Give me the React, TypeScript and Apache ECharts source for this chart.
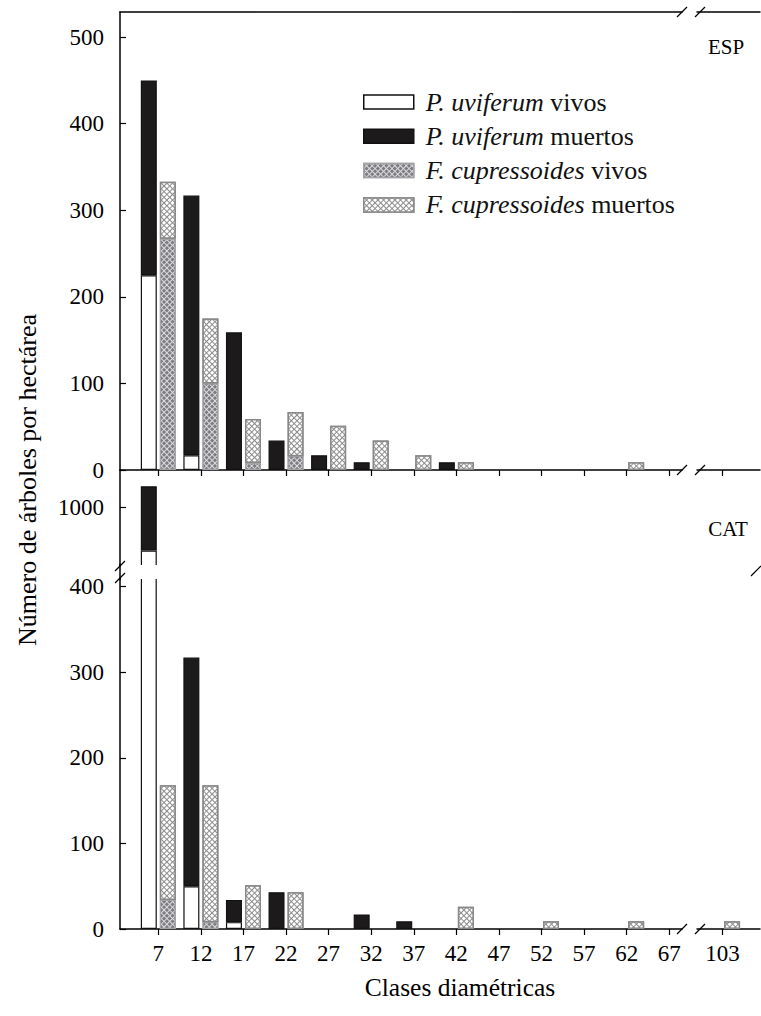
import React, { useEffect, useRef } from 'react';
import * as echarts from 'echarts';

// ---- data ----
const classes = [7, 12, 17, 22, 27, 32, 37, 42, 47, 52, 57, 62, 67, 103];
const species = ['P. uviferum', 'F. cupressoides'];
const states = ['vivos', 'muertos'];
const panels = ['ESP', 'CAT'];

// ESP (trees / ha)
const espPuvVivos = [225, 17, 0, 0, 0, 0, 0, 0, 0, 0, 0, 0, 0, 0];
const espPuvMuertos = [225, 300, 159, 34, 17, 9, 0, 9, 0, 0, 0, 0, 0, 0];
const espFcuVivos = [267, 100, 8, 16, 0, 0, 0, 0, 0, 0, 0, 0, 0, 0];
const espFcuMuertos = [66, 75, 51, 51, 51, 34, 17, 9, 0, 0, 0, 9, 0, 0];

// CAT (trees / ha)
const catPuvVivos = [950, 50, 8, 0, 0, 0, 0, 0, 0, 0, 0, 0, 0, 0];
const catPuvMuertos = [75, 267, 26, 43, 0, 17, 9, 0, 0, 0, 0, 0, 0, 0];
const catFcuVivos = [34, 8, 0, 0, 0, 0, 0, 0, 0, 0, 0, 0, 0, 0];
const catFcuMuertos = [134, 160, 51, 43, 0, 0, 0, 26, 0, 9, 0, 9, 0, 9];

const yTicksTop = [0, 100, 200, 300, 400, 500];
const yTicksLow = [0, 100, 200, 300, 400];
const yTicksHigh = [1000];

const FONT = 'Liberation Serif';

const legendNames = species.flatMap((s) => states.map((st) => `${s} ${st}`));

const styles = [
  { color: '#ffffff', borderColor: '#111111', borderWidth: 1.2 },
  { color: '#1d1a1b', borderColor: '#111111', borderWidth: 1.2 },
  {
    color: '#dcdcde',
    borderColor: '#a4a4a8',
    borderWidth: 1.2,
    decal: {
      symbol: 'rect',
      symbolSize: 1,
      color: '#7c7c81',
      dashArrayX: [3, 1],
      dashArrayY: [3, 1],
      rotation: Math.PI / 4,
    },
  },
  {
    color: '#8c8c8c',
    borderColor: '#888888',
    borderWidth: 1.5,
    decal: {
      symbol: 'rect',
      symbolSize: 1,
      color: '#ffffff',
      dashArrayX: [3, 1],
      dashArrayY: [3, 1],
      rotation: Math.PI / 4,
    },
  },
];

const mainIdx = classes.map((c, i) => i).filter((i) => classes[i] <= 67);
const brokenIdx = classes.map((c, i) => i).filter((i) => classes[i] > 67);

function buildSeries(
  tag: string,
  xAxisIndex: number,
  yAxisIndex: number,
  idx: number[],
  sets: number[][]
) {
  return sets.map((vals, k) => ({
    type: 'bar',
    name: legendNames[k],
    xAxisIndex,
    yAxisIndex,
    stack: (k < 2 ? 'P' : 'F') + tag,
    barWidth: 16,
    barGap: '19%',
    encode: { x: 1, y: 0 },
    data: idx.map((i) => [vals[i] > 0 ? vals[i] : null, classes[i]]),
    itemStyle: styles[k],
    emphasis: { disabled: true },
  }));
}

const axisLabelStyle = {
  fontFamily: FONT,
  fontSize: 23,
  color: '#000',
  formatter: (v: number) => String(v),
};
const lineStyle = { color: '#000', width: 1.5 };

function slash(x: number, y: number) {
  return {
    type: 'line',
    z: 120,
    shape: { x1: x - 5, y1: y + 5, x2: x + 5, y2: y - 5 },
    style: { stroke: '#000', lineWidth: 1.2 },
  };
}

function textEl(text: string, x: number, y: number, size: number, rotation = 0) {
  return {
    type: 'text',
    z: 120,
    x,
    y,
    rotation,
    style: {
      text,
      fontSize: size,
      fontFamily: FONT,
      fill: '#000',
      textAlign: 'center',
      textVerticalAlign: 'middle',
      align: 'center',
      verticalAlign: 'middle',
    },
  };
}

export default function App() {
  const ref = useRef<HTMLDivElement>(null);
  useEffect(() => {
    if (!ref.current) return;
    const chart = echarts.init(ref.current, null, { renderer: 'svg' });
    const mainClasses = mainIdx.map((i) => classes[i]);
    const brokenClasses = brokenIdx.map((i) => classes[i]);
    const espSets = [espPuvVivos, espPuvMuertos, espFcuVivos, espFcuMuertos];
    const catSets = [catPuvVivos, catPuvMuertos, catFcuVivos, catFcuMuertos];

    const xLeft = { min: 2.5, max: 68.5 };
    const xRight = { min: 100, max: 107.4 };
    const tickStyle = { color: '#000', width: 1.2 };

    const option: any = {
      animation: false,
      backgroundColor: '#ffffff',
      textStyle: { fontFamily: FONT },
      grid: [
        { left: 120, top: 12, width: 562, height: 458, outerBoundsMode: 'none' },
        { left: 697, top: 12, width: 63, height: 458, outerBoundsMode: 'none' },
        { left: 120, top: 470, width: 562, height: 96, outerBoundsMode: 'none' },
        { left: 120, top: 578, width: 562, height: 351, outerBoundsMode: 'none' },
        { left: 697, top: 578, width: 63, height: 351, outerBoundsMode: 'none' },
      ],
      xAxis: [
        {
          type: 'value', gridIndex: 0, position: 'bottom', ...xLeft,
          axisLine: { show: true, lineStyle },
          axisTick: { show: true, inside: false, length: 6, customValues: mainClasses, lineStyle: tickStyle },
          axisLabel: { show: false },
          splitLine: { show: false },
        },
        {
          type: 'value', gridIndex: 0, position: 'top', ...xLeft,
          axisLine: { show: true, lineStyle },
          axisTick: { show: false }, axisLabel: { show: false }, splitLine: { show: false },
        },
        {
          type: 'value', gridIndex: 1, position: 'bottom', ...xRight,
          axisLine: { show: true, lineStyle },
          axisTick: { show: true, inside: false, length: 6, customValues: brokenClasses, lineStyle: tickStyle },
          axisLabel: { show: false },
          splitLine: { show: false },
        },
        {
          type: 'value', gridIndex: 1, position: 'top', ...xRight,
          axisLine: { show: true, lineStyle },
          axisTick: { show: false }, axisLabel: { show: false }, splitLine: { show: false },
        },
        { type: 'value', gridIndex: 2, ...xLeft, show: false },
        {
          type: 'value', gridIndex: 3, position: 'bottom', ...xLeft,
          axisLine: { show: true, lineStyle },
          axisTick: { show: true, inside: false, length: 6, customValues: mainClasses, lineStyle: tickStyle },
          axisLabel: { ...axisLabelStyle, margin: 13, customValues: mainClasses },
          splitLine: { show: false },
        },
        {
          type: 'value', gridIndex: 4, position: 'bottom', ...xRight,
          axisLine: { show: true, lineStyle },
          axisTick: { show: true, inside: false, length: 6, customValues: brokenClasses, lineStyle: tickStyle },
          axisLabel: { ...axisLabelStyle, margin: 13, customValues: brokenClasses },
          splitLine: { show: false },
        },
      ],
      yAxis: [
        {
          type: 'value', gridIndex: 0, min: 0, max: 529,
          axisLine: { show: true, lineStyle },
          axisTick: { show: true, inside: true, length: 6, customValues: yTicksTop, lineStyle: tickStyle },
          axisLabel: { ...axisLabelStyle, margin: 16, customValues: yTicksTop },
          splitLine: { show: false },
        },
        { type: 'value', gridIndex: 1, min: 0, max: 529, show: false },
        {
          type: 'value', gridIndex: 2, min: 932, max: 1044,
          axisLine: { show: true, lineStyle },
          axisTick: { show: true, inside: true, length: 6, customValues: yTicksHigh, lineStyle: tickStyle },
          axisLabel: { ...axisLabelStyle, margin: 16, customValues: yTicksHigh },
          splitLine: { show: false },
        },
        {
          type: 'value', gridIndex: 3, min: 0, max: 410,
          axisLine: { show: true, lineStyle },
          axisTick: { show: true, inside: true, length: 6, customValues: yTicksLow, lineStyle: tickStyle },
          axisLabel: { ...axisLabelStyle, margin: 16, customValues: yTicksLow },
          splitLine: { show: false },
        },
        { type: 'value', gridIndex: 4, min: 0, max: 410, show: false },
      ],
      legend: {
        orient: 'vertical',
        left: 358,
        top: 84,
        itemWidth: 50,
        itemHeight: 14,
        itemGap: 8.3,
        icon: 'rect',
        selectedMode: false,
        data: legendNames,
        itemStyle: { borderWidth: 1.5 },
        formatter: (name: string) => {
          const sp = species.find((s) => name.startsWith(s)) || '';
          return `{i|${sp}}{r|${name.slice(sp.length)}}`;
        },
        textStyle: {
          fontFamily: FONT,
          fontSize: 26,
          color: '#111',
          padding: [0, 0, 0, 7],
          rich: {
            i: { fontFamily: FONT, fontSize: 26, fontStyle: 'italic', color: '#111' },
            r: { fontFamily: FONT, fontSize: 26, color: '#111' },
          },
        },
      },
      series: [
        ...buildSeries('esp0', 0, 0, mainIdx, espSets),
        ...buildSeries('esp1', 2, 1, brokenIdx, espSets),
        ...buildSeries('cat2', 4, 2, mainIdx, catSets),
        ...buildSeries('cat3', 5, 3, mainIdx, catSets),
        ...buildSeries('cat4', 6, 4, brokenIdx, catSets),
      ],
      graphic: [
        { type: 'rect', z: 100, shape: { x: 121, y: 565, width: 60, height: 14 }, style: { fill: '#ffffff' } },
        { type: 'line', z: 110, shape: { x1: 120, y1: 564, x2: 120, y2: 580 }, style: { stroke: '#000', lineWidth: 1.5 } },
        slash(120, 566), slash(120, 578),
        slash(756, 571),
        slash(682, 12), slash(700, 12),
        slash(682, 470), slash(700, 470),
        slash(682, 929), slash(700, 929),
        textEl(panels[0], 726, 47, 21),
        textEl(panels[1], 728, 529, 21),
        textEl('Número de árboles por hectárea', 27, 480, 26, Math.PI / 2),
        textEl('Clases diamétricas', 460, 987, 25.5),
      ],
    };
    chart.setOption(option);
    return () => chart.dispose();
  }, []);
  return (
    <div
      ref={ref}
      style={{ position: 'absolute', left: 0, top: 0, width: 761, height: 1016, background: '#fff' }}
    />
  );
}
